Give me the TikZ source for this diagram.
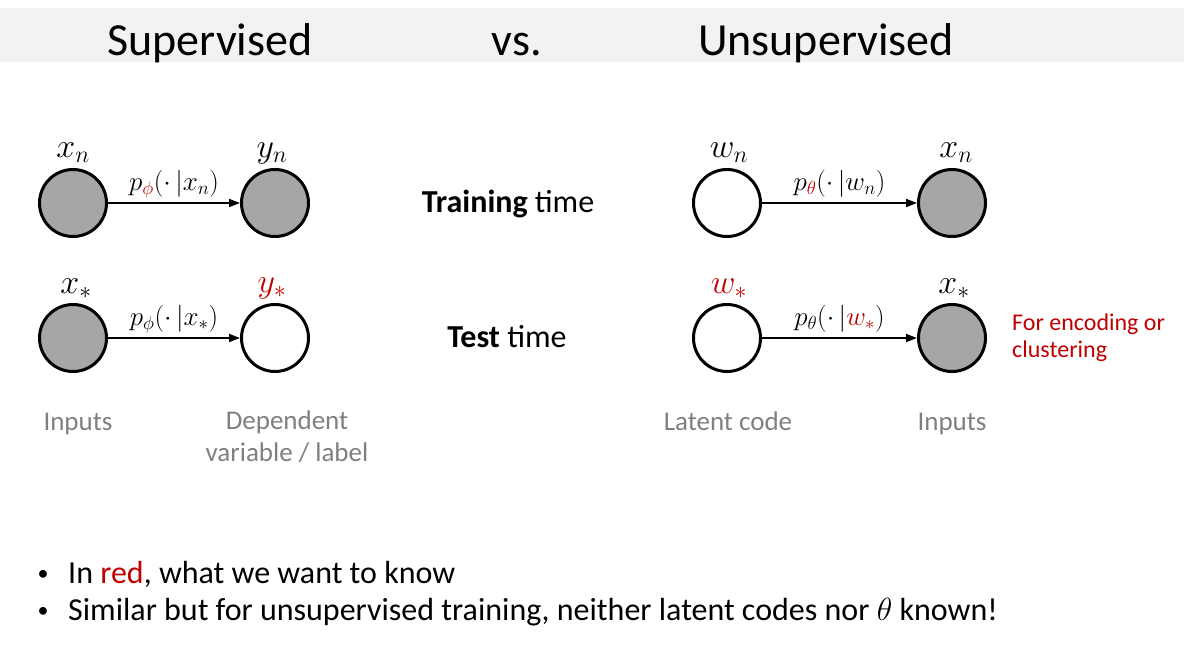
\RequirePackage{fix-cm}
\documentclass[tikz,border=0pt]{standalone}
\usepackage{fontspec}
\setmainfont{Carlito}
\usetikzlibrary{arrows.meta}
\definecolor{dred}{HTML}{C00000}
\definecolor{lblgray}{HTML}{7F7F7F}
\definecolor{hdr}{HTML}{F2F2F2}
\definecolor{obs}{HTML}{A6A6A6}
\begin{document}
\begin{tikzpicture}[x=1pt,y=-1pt,
  var/.style={circle,draw=black,line width=3pt,minimum size=67pt,inner sep=0pt},
  obsvar/.style={var,fill=obs},
  latvar/.style={var,fill=white},
  arr/.style={-{Triangle[length=11pt,width=8pt]},line width=1.8pt},
  elab/.style={anchor=base,font=\fontsize{27}{30}\selectfont,inner sep=0pt},
  vlab/.style={anchor=base,font=\fontsize{34}{36}\selectfont,inner sep=0pt},
  glab/.style={anchor=base,text=lblgray,font=\fontsize{27}{32}\selectfont,inner sep=0pt,align=center},
  head/.style={anchor=base,font=\fontsize{46}{50}\selectfont,inner sep=0pt},
  mid/.style={anchor=base,font=\fontsize{32}{36}\selectfont,inner sep=0pt},
  bul/.style={anchor=base west,font=\fontsize{32}{36}\selectfont,inner sep=0pt},
  dot/.style={anchor=base,font=\fontsize{22}{26}\selectfont,inner sep=0pt}]
\useasboundingbox (0,0) rectangle (1184,648);
\fill[hdr] (0,8) rectangle (1184,62);
\node[head] (h1) at (210,55) {Supervised};
\node[head] (h2) at (517,55) {vs.};
\node[head] (h3) at (826,55) {Unsupervised};

% left nodes
\node[obsvar] (x1) at (73,203) {};
\node[obsvar] (y1) at (275,203) {};
\node[obsvar] (x2) at (73,338) {};
\node[latvar] (y2) at (275,338) {};
% right nodes
\node[latvar] (w1) at (727,203) {};
\node[obsvar] (xr1) at (952,203) {};
\node[latvar] (w2) at (727,338) {};
\node[obsvar] (xr2) at (952,338) {};

% variable labels
\node[vlab] (lx1) at (73,157) {$x_n$};
\node[vlab] (ly1) at (272,157) {$y_n$};
\node[vlab] (lx2) at (76,293) {$x_*$};
\node[vlab,text=dred] (ly2) at (272,292) {$y_*$};
\node[vlab] (lw1) at (729,157) {$w_n$};
\node[vlab] (lxr1) at (956,157) {$x_n$};
\node[vlab,text=dred] (lw2) at (729,293) {$w_*$};
\node[vlab] (lxr2) at (954,293) {$x_*$};

% arrows
\draw[arr] (x1) -- (y1) node[elab,pos=0.5,yshift=13pt] (e1) {$p_{\textcolor{dred}{\phi}}(\cdot\,|x_n)$};
\draw[arr] (x2) -- (y2) node[elab,pos=0.5,yshift=13pt] (e2) {$p_{\phi}(\cdot\,|x_*)$};
\draw[arr] (w1) -- (xr1) node[elab,pos=0.5,yshift=13pt] (e3) {$p_{\textcolor{dred}{\theta}}(\cdot\,|w_n)$};
\draw[arr] (w2) -- (xr2) node[elab,pos=0.5,yshift=13pt] (e4) {$p_{\theta}(\cdot\,|\textcolor{dred}{w_*})$};

% middle text
\node[mid] (tr) at (508,212) {\textbf{Training} time};
\node[mid] (te) at (507,347) {\textbf{Test} time};

% red note
\node[anchor=base west,text=dred,font=\fontsize{24}{27}\selectfont,align=left,inner sep=0pt] (note) at (1012,357) {For encoding or\\clustering};

% gray labels
\node[glab] (g1) at (78,430) {Inputs};
\node[glab] (g2) at (287,461) {Dependent\\variable / label};
\node[glab] (g3) at (728,430) {Latent code};
\node[glab] (g4) at (952,430) {Inputs};

% bullets
\node[bul] (b1) at (68,583) {In \textcolor{dred}{red}, what we want to know};
\node[bul] (b2) at (68,620) {Similar but for unsupervised training, neither latent codes nor $\theta$ known!};
\node[dot] (d1) at (43,580) {\textbullet};
\node[dot] (d2) at (43,617) {\textbullet};
\end{tikzpicture}
\end{document}
